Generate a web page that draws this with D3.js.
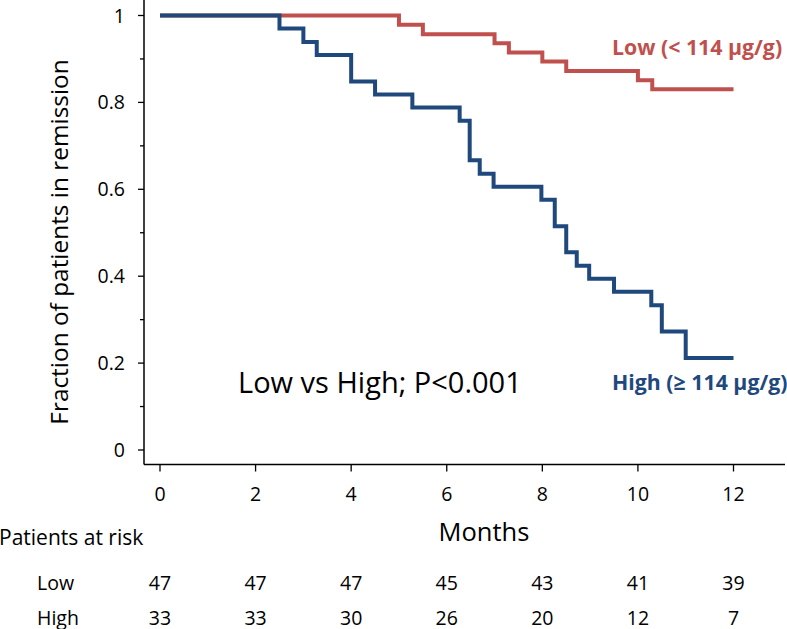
<!DOCTYPE html>
<html>
<head>
<meta charset="utf-8">
<script src="https://cdn.jsdelivr.net/npm/d3@7"></script>
<style>
  html, body { margin: 0; padding: 0; background: #fff; }
  svg { display: block; }
  text { font-family: "Open Sans", Lato, sans-serif; fill: #000; }
</style>
</head>
<body>
<svg id="chart" width="787" height="629"></svg>
<script>
// ---------- data ----------
const lowTimes = [0, 5.0, 5.5, 7.0, 7.3, 8.0, 8.5, 10.0, 10.3, 12];
const lowSurv  = [1, 0.979, 0.957, 0.936, 0.915, 0.894, 0.872, 0.851, 0.830, 0.830];

const highTimes = [0, 2.5, 3.0, 3.28, 4.0, 4.5, 5.28, 6.27, 6.48, 6.69, 6.98, 7.98, 8.26, 8.5, 8.72, 8.98, 9.5, 10.28, 10.5, 11.0, 12];
const highSurv  = [1, 0.970, 0.939, 0.909, 0.848, 0.818, 0.788, 0.758, 0.667, 0.636, 0.606, 0.576, 0.515, 0.455, 0.424, 0.394, 0.364, 0.333, 0.273, 0.212, 0.212];

const xTicks = [0, 2, 4, 6, 8, 10, 12];
const yTicks = [0, 0.2, 0.4, 0.6, 0.8, 1];
const yMinorTicks = [0.1, 0.3, 0.5, 0.7, 0.9];

const riskGroups = ["Low", "High"];
const riskLow  = [47, 47, 47, 45, 43, 41, 39];
const riskHigh = [33, 33, 30, 26, 20, 12, 7];

const lowLabel = "Low (< 114 µg/g)";
const highLabel = "High (≥ 114 µg/g)";
const annotation = "Low vs High; P<0.001";
const xTitle = "Months";
const yTitle = "Fraction of patients in remission";
const riskTitle = "Patients at risk";

const colLow = "#C0504D";
const colHigh = "#1F497D";

// ---------- scales ----------
const svg = d3.select("#chart");
const x = d3.scaleLinear().domain([0, 12]).range([160, 733.5]);
const y = d3.scaleLinear().domain([0, 1]).range([450, 15.5]);

const axisX0 = x.invert(144), axisX1 = x.invert(785);
const axisY0 = y.invert(464.5), axisY1 = y.invert(0);

// ---------- axes ----------
const g = svg.append("g");
g.append("line")
  .attr("x1", x(axisX0)).attr("x2", x(axisX0))
  .attr("y1", y(axisY1)).attr("y2", y(axisY0))
  .attr("stroke", "#000").attr("stroke-width", 1.5);
g.append("line")
  .attr("x1", x(axisX0)).attr("x2", x(axisX1))
  .attr("y1", y(axisY0)).attr("y2", y(axisY0))
  .attr("stroke", "#000").attr("stroke-width", 1.5);

g.selectAll(".ytick").data(yTicks).enter().append("line")
  .attr("x1", x(axisX0) - 6).attr("x2", x(axisX0))
  .attr("y1", d => y(d)).attr("y2", d => y(d))
  .attr("stroke", "#000").attr("stroke-width", 1.3);
g.selectAll(".yminor").data(yMinorTicks).enter().append("line")
  .attr("x1", x(axisX0) - 4).attr("x2", x(axisX0))
  .attr("y1", d => y(d)).attr("y2", d => y(d))
  .attr("stroke", "#000").attr("stroke-width", 1.3);
g.selectAll(".ylab").data(yTicks).enter().append("text")
  .attr("x", 125).attr("y", d => y(d) + 7)
  .attr("text-anchor", "end").attr("font-size", 19.5)
  .text(d => d3.format("~g")(d));

g.selectAll(".xtick").data(xTicks).enter().append("line")
  .attr("x1", d => x(d)).attr("x2", d => x(d))
  .attr("y1", y(axisY0)).attr("y2", y(axisY0) + 7)
  .attr("stroke", "#000").attr("stroke-width", 1.3);
g.selectAll(".xlab").data(xTicks).enter().append("text")
  .attr("x", d => x(d)).attr("y", 500.5)
  .attr("text-anchor", "middle").attr("font-size", 19.5)
  .text(d => d);

svg.append("text").attr("x", 484).attr("y", 540.5)
  .attr("text-anchor", "middle").attr("font-size", 25.5).text(xTitle);
svg.append("text")
  .attr("transform", "translate(68,242) rotate(-90)")
  .attr("text-anchor", "middle").attr("font-size", 24.4).text(yTitle);

// ---------- curves ----------
const line = d3.line().x(d => x(d[0])).y(d => y(d[1])).curve(d3.curveStepAfter);
const lowData = lowTimes.map((t, i) => [t, lowSurv[i]]);
const highData = highTimes.map((t, i) => [t, highSurv[i]]);

svg.append("path").datum(lowData).attr("d", line)
  .attr("fill", "none").attr("stroke", colLow).attr("stroke-width", 4)
  .attr("stroke-linejoin", "miter");
svg.append("path").datum(highData).attr("d", line)
  .attr("fill", "none").attr("stroke", colHigh).attr("stroke-width", 4)
  .attr("stroke-linejoin", "miter");

// ---------- labels ----------
svg.append("text").attr("x", 612).attr("y", 55)
  .attr("font-size", 21.3).attr("font-weight", "bold")
  .style("fill", colLow).text(lowLabel);
svg.append("text").attr("x", 612).attr("y", 390)
  .attr("font-size", 21.3).attr("font-weight", "bold")
  .style("fill", colHigh).text(highLabel);
svg.append("text").attr("x", 238).attr("y", 393)
  .attr("font-size", 29).text(annotation);

// ---------- risk table ----------
svg.append("text").attr("x", -1).attr("y", 545)
  .attr("font-size", 21).text(riskTitle);
const riskRows = [riskLow, riskHigh];
const rowY = [589.5, 624.5];
riskGroups.forEach((name, r) => {
  svg.append("text").attr("x", 37).attr("y", rowY[r])
    .attr("font-size", 19.5).text(name);
  svg.selectAll(".risk" + r).data(riskRows[r]).enter().append("text")
    .attr("x", (d, i) => x(xTicks[i])).attr("y", rowY[r])
    .attr("text-anchor", "middle").attr("font-size", 19.5)
    .text(d => d);
});
</script>
</body>
</html>
